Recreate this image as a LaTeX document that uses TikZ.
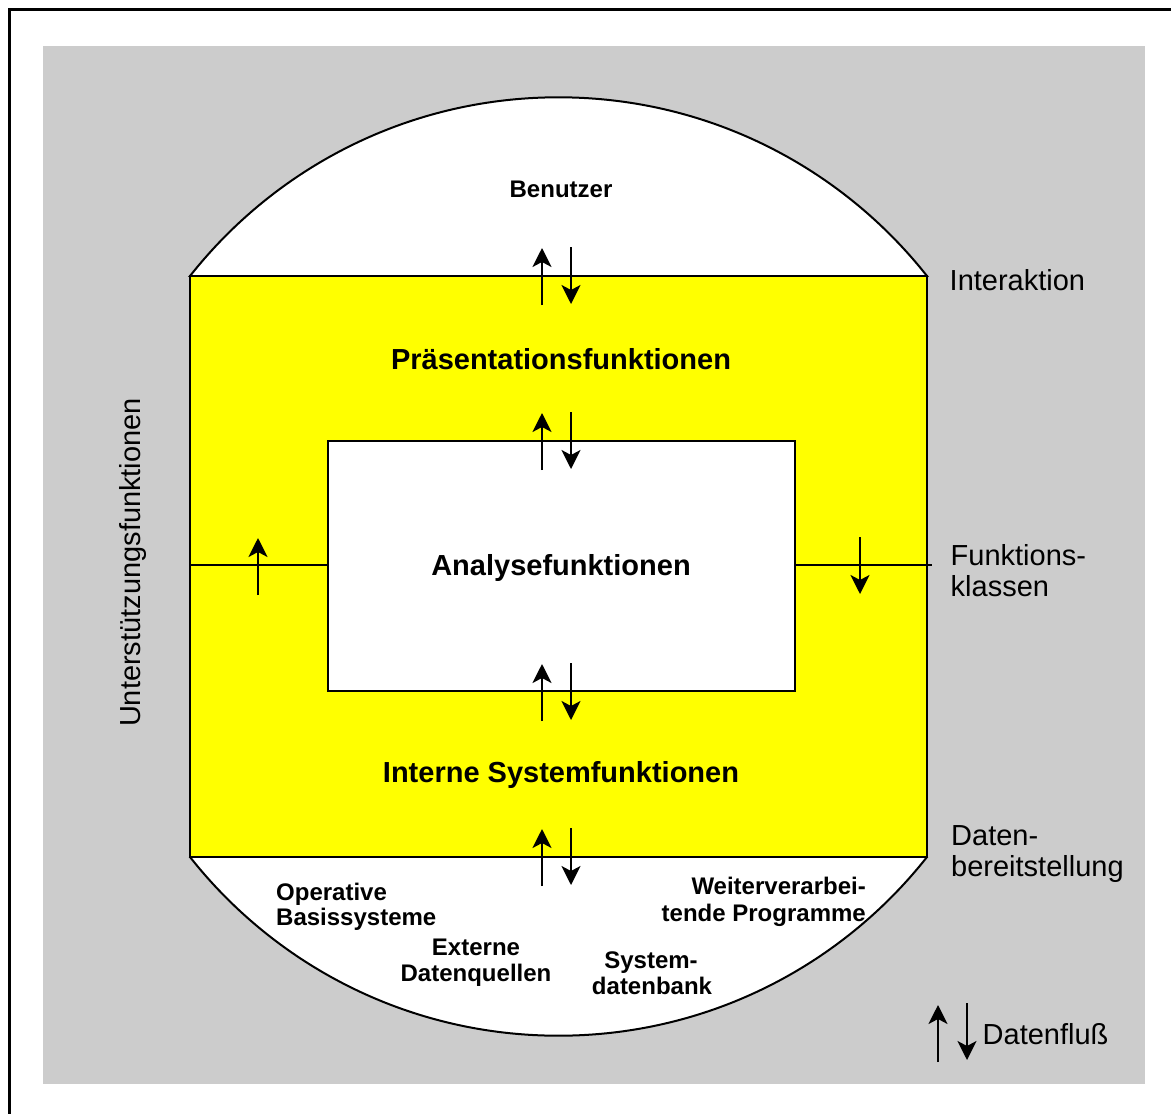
\documentclass[tikz,border=0pt]{standalone}
\usepackage{fontspec}
\setmainfont{Liberation Sans}
\usetikzlibrary{arrows.meta}
\definecolor{bggray}{RGB}{204,204,204}
\definecolor{fyellow}{RGB}{255,255,0}
\tikzset{
  frameline/.style={line width=2pt,draw=black},
  flow/.style={line width=2pt,-{Stealth[length=19pt,width=19pt,inset=5pt]}},
  bigbold/.style={font=\fontsize{29}{33}\selectfont\bfseries,inner sep=0pt,anchor=base},
  smallbold/.style={font=\fontsize{24}{26}\selectfont\bfseries,inner sep=0pt},
  sidelabel/.style={font=\fontsize{29}{31}\selectfont,inner sep=0pt,anchor=base west},
}
\begin{document}
\begin{tikzpicture}[x=1pt,y=-1pt]
\useasboundingbox (0,0) rectangle (1171,1114);
% outer frame lines
\draw[line width=3pt] (9,1120) -- (9,9) -- (1180,9);
% grey background
\fill[bggray] (43,46) rectangle (1145,1084);
% circle caps
\coordinate (C) at (558.5,566.5);
\begin{scope}
  \clip (0,0) rectangle (1171,276);
  \draw[frameline,fill=white] (C) circle (469.2);
\end{scope}
\begin{scope}
  \clip (0,857) rectangle (1171,1114);
  \draw[frameline,fill=white] (C) circle (469.2);
\end{scope}
% yellow band
\node[frameline,fill=fyellow,minimum width=737pt,minimum height=581pt,inner sep=0pt] (yel) at (558.5,566.5) {};
% inner white box
\node[frameline,fill=white,minimum width=467pt,minimum height=250pt,inner sep=0pt] (ana) at (561.5,566) {};
% horizontal lines
\coordinate (hl1) at (190,564.5);
\coordinate (hr2) at (931.5,564.5);
\draw[frameline] (hl1) -- (ana.west |- hl1);
\draw[frameline] (ana.east |- hr2) -- (hr2);
% flow arrows
\coordinate (a1s) at (542,305); \coordinate (a1e) at (542,248);
\coordinate (b1s) at (571,247); \coordinate (b1e) at (571,304);
\coordinate (a2s) at (542,470); \coordinate (a2e) at (542,413);
\coordinate (b2s) at (571,412); \coordinate (b2e) at (571,469);
\coordinate (a3s) at (542,721); \coordinate (a3e) at (542,664);
\coordinate (b3s) at (571,663); \coordinate (b3e) at (571,720);
\coordinate (a4s) at (542,886); \coordinate (a4e) at (542,829);
\coordinate (b4s) at (571,828); \coordinate (b4e) at (571,885);
\coordinate (lls) at (258,595); \coordinate (lle) at (258,538);
\coordinate (rrs) at (860,537); \coordinate (rre) at (860,594);
\coordinate (legas) at (938,1062); \coordinate (legae) at (938,1005);
\coordinate (legbs) at (967,1003); \coordinate (legbe) at (967,1060);
\foreach \s/\e in {a1s/a1e,b1s/b1e,a2s/a2e,b2s/b2e,a3s/a3e,b3s/b3e,a4s/a4e,b4s/b4e,lls/lle,rrs/rre,legas/legae,legbs/legbe}
  \draw[flow] (\s) -- (\e);
% texts
\node[smallbold,anchor=base] (benutzer) at (561,197.3) {Benutzer};
\node[bigbold] (praes) at (561,369) {Präsentationsfunktionen};
\node[bigbold] (analyse) at (561,575) {Analysefunktionen};
\node[bigbold] (intern) at (561,782) {Interne Systemfunktionen};
\node[sidelabel] (interaktion) at (949.5,290.5) {Interaktion};
\node[sidelabel] (funkA) at (950.5,565) {Funktions-};
\node[sidelabel] (funkB) at (950.5,596) {klassen};
\node[sidelabel] (datA) at (951,845) {Daten-};
\node[sidelabel] (datB) at (951,876) {bereitstellung};
\node[sidelabel] (datenfluss) at (982.5,1044) {Datenfluß};
\node[font=\fontsize{29}{31}\selectfont,inner sep=0pt,anchor=base,rotate=90] (unter) at (140.5,562.5) {Unterstützungsfunktionen};
\node[smallbold,anchor=base west] (opA) at (276,900) {Operative};
\node[smallbold,anchor=base west] (opB) at (276,925) {Basissysteme};
\node[smallbold,anchor=base] (exA) at (476,955) {Externe};
\node[smallbold,anchor=base] (exB) at (476,981.5) {Datenquellen};
\node[smallbold,anchor=base] (sysA) at (651,968) {System-};
\node[smallbold,anchor=base] (sysB) at (652,994) {datenbank};
\node[smallbold,anchor=base east] (weiA) at (866,894) {Weiterverarbei-};
\node[smallbold,anchor=base east] (weiB) at (866,921) {tende Programme};
\end{tikzpicture}
\end{document}
